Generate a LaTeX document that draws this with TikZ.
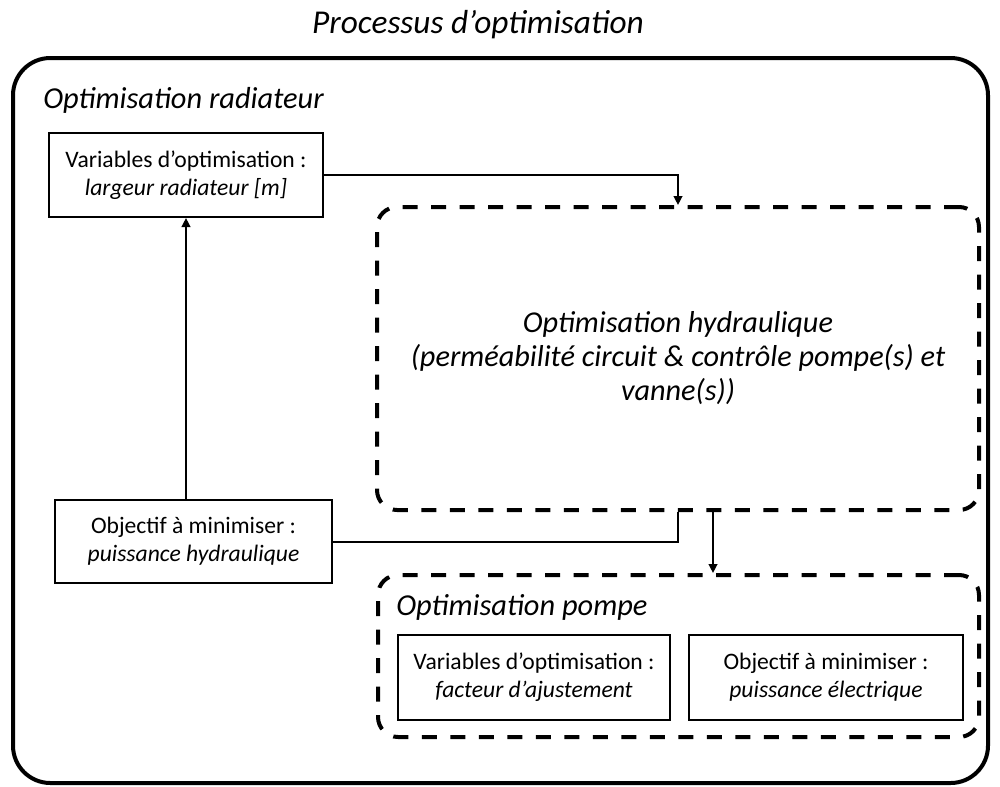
\documentclass[tikz,border=0pt]{standalone}
\usepackage{fontspec}
\setmainfont{Carlito}
\usetikzlibrary{arrows.meta}
\begin{document}
\begin{tikzpicture}[x=0.75pt,y=-0.75pt]
\tikzset{
  frame/.style={draw, line width=3pt, rounded corners=28pt, inner sep=0pt},
  solidbox/.style={draw, line width=1.5pt, inner sep=0pt, align=center,
    minimum height=63pt, font=\fontsize{17.7pt}{21pt}\selectfont},
  dashbox/.style={draw, line width=3pt, dash pattern=on 11.25pt off 10.125pt,
    rounded corners=15pt, inner sep=0pt, align=center},
  conn/.style={line width=1.5pt},
  arr/.style={conn, -{Triangle[width=6.5pt,length=6.75pt]}},
  head/.style={font=\fontsize{22.8pt}{25.5pt}\selectfont\itshape, inner sep=0pt, anchor=west},
  titletext/.style={font=\fontsize{25pt}{30pt}\selectfont\itshape, inner sep=0pt},
}
\useasboundingbox (0,0) rectangle (1000,786);

\node[titletext] (title) at (478,25) {Processus d’optimisation};
\node[frame, minimum width=731.25pt, minimum height=543.75pt] (outer) at (500.5,420.5) {};
\node[head] (hrad) at (43,100) {Optimisation radiateur};

\node[solidbox, minimum width=205.5pt] (var) at (186,175)
  {Variables d’optimisation :\\ \textit{largeur radiateur [m]}};
\node[solidbox, minimum width=207.75pt, minimum height=62.25pt] (obj) at (193.5,541.5)
  {Objectif à minimiser :\\ \textit{puissance hydraulique}};

\node[dashbox, minimum width=451.5pt, minimum height=227.25pt,
  font=\fontsize{22.7pt}{25.5pt}\selectfont\itshape] (hyd) at (678,358.5)
  {Optimisation hydraulique\\(perméabilité circuit \& contrôle pompe(s) et\\vanne(s))};

\node[dashbox, minimum width=450.75pt, minimum height=121.5pt] (pompe) at (678.5,656) {};
\node[head] (hpompe) at (396,607) {Optimisation pompe};
\node[solidbox, minimum width=204pt, minimum height=63.75pt] (pvar) at (534,677.5)
  {Variables d’optimisation :\\ \textit{facteur d’ajustement}};
\node[solidbox, minimum width=205.5pt, minimum height=63.75pt] (pobj) at (826,677.5)
  {Objectif à minimiser :\\ \textit{puissance électrique}};

\draw[arr] (var.east) -| (hyd.north);
\draw[arr] (obj.north -| var.south) -- (var.south);
\draw[conn] (obj.east) -| (hyd.south);
\draw[arr] ([xshift=26.25pt]hyd.south) -- ([xshift=26.25pt]hyd.south |- pompe.north);
\end{tikzpicture}
\end{document}
